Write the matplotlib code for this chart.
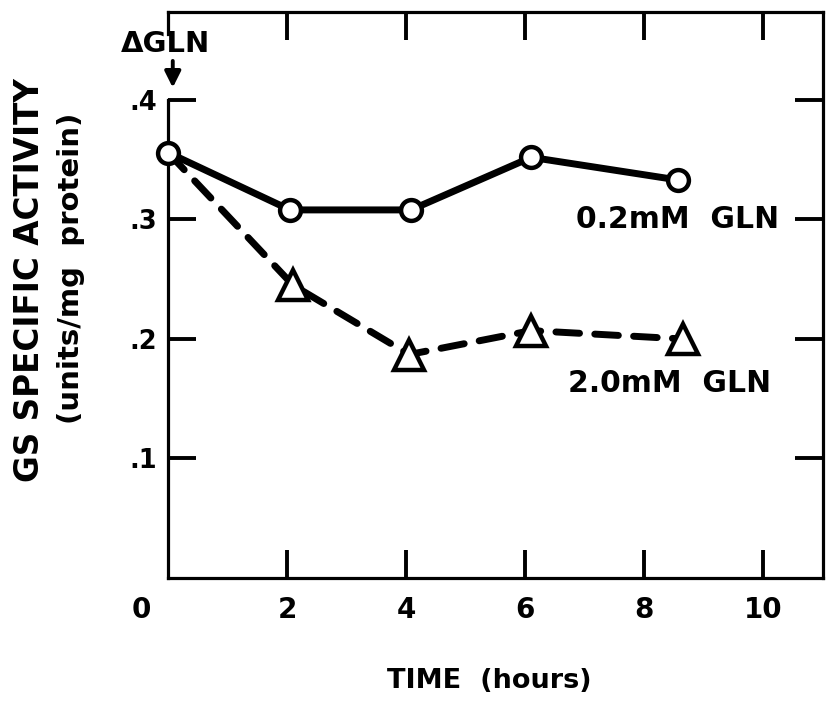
import matplotlib
matplotlib.use("Agg")
import matplotlib.pyplot as plt
from matplotlib.lines import Line2D

# data
time_low = [0.0, 2.05, 4.08, 6.1, 8.57]
act_low = [0.356, 0.308, 0.308, 0.352, 0.333]
time_high = [0.0, 2.1, 4.05, 6.1, 8.65]
act_high = [0.356, 0.245, 0.187, 0.207, 0.200]
xticks = [2, 4, 6, 8, 10]
yticks = [0.1, 0.2, 0.3, 0.4]
ytick_labels = [".1", ".2", ".3", ".4"]

plt.rcParams['font.family'] = ['DejaVu Sans']
plt.rcParams['font.weight'] = 'bold'

fig = plt.figure(figsize=(8.26, 7.08), dpi=100)
L, R, B, T = 168 / 826, 823 / 826, 1 - 578 / 708, 1 - 12 / 708
ax = fig.add_axes([L, B, R - L, T - B])
ax.set_xlim(0, 11.0)
ax.set_ylim(0, 0.4736)

lw_sp = 2.3
for s in ax.spines.values():
    s.set_linewidth(lw_sp)
    s.set_color('black')
ax.spines['left'].set_bounds(0, 0.40)
ax.add_line(Line2D([0, 0], [0.455, 0.4736], color='black', lw=lw_sp,
                   clip_on=False, solid_capstyle='projecting'))

ax.set_xticks(xticks)
ax.set_xticklabels([str(v) for v in xticks])
ax.set_yticks(yticks)
ax.set_yticklabels(ytick_labels)
ax.tick_params(axis='both', direction='in', length=20, width=2.8,
               top=True, right=True)
ax.tick_params(axis='x', pad=13, labelsize=20)
ax.tick_params(axis='y', pad=8, labelsize=18.5)
ax.text(-0.45, -0.027, "0", ha='center', va='center', fontsize=20,
        fontweight='bold', clip_on=False)

# 2.0 mM series (dashed, triangles)
ax.plot(time_high, act_high, color='black', lw=5, linestyle=(0, (3.4, 2.2)),
        marker='^', markersize=21, markerfacecolor='white',
        markeredgecolor='black', markeredgewidth=3.2, markevery=[1, 2, 3, 4],
        zorder=3, clip_on=False, dash_capstyle='round')
# 0.2 mM series (solid, circles)
ax.plot(time_low, act_low, color='black', lw=5, marker='o', markersize=15,
        markerfacecolor='white', markeredgecolor='black', markeredgewidth=3.2,
        zorder=4, clip_on=False)

ax.text(6.85, 0.3, "0.2mM  GLN", ha='left', va='center', fontsize=21.5,
        fontweight='bold')
ax.text(6.72, 0.163, "2.0mM  GLN", ha='left', va='center', fontsize=21.5,
        fontweight='bold')

# delta GLN annotation
ax.annotate("", xy=(0.08, 0.408), xytext=(0.08, 0.435),
            arrowprops=dict(arrowstyle='-|>', color='black', lw=2.8,
                            mutation_scale=24), annotation_clip=False)
fig.text(165 / 826, 1 - 44 / 708, "\u0394GLN", ha='center', va='center',
         fontsize=21, fontweight='bold')

fig.text(30 / 826, 1 - 280 / 708, "GS SPECIFIC ACTIVITY", rotation=90,
         ha='center', va='center', fontsize=23.5, fontweight='bold')
fig.text(71 / 826, 1 - 268 / 708, "(units/mg  protein)", rotation=90,
         ha='center', va='center', fontsize=21, fontweight='bold')
fig.text(489 / 826, 1 - 681 / 708, "TIME  (hours)", ha='center', va='center',
         fontsize=19.5, fontweight='bold')

fig.savefig("out.png", dpi=100)
